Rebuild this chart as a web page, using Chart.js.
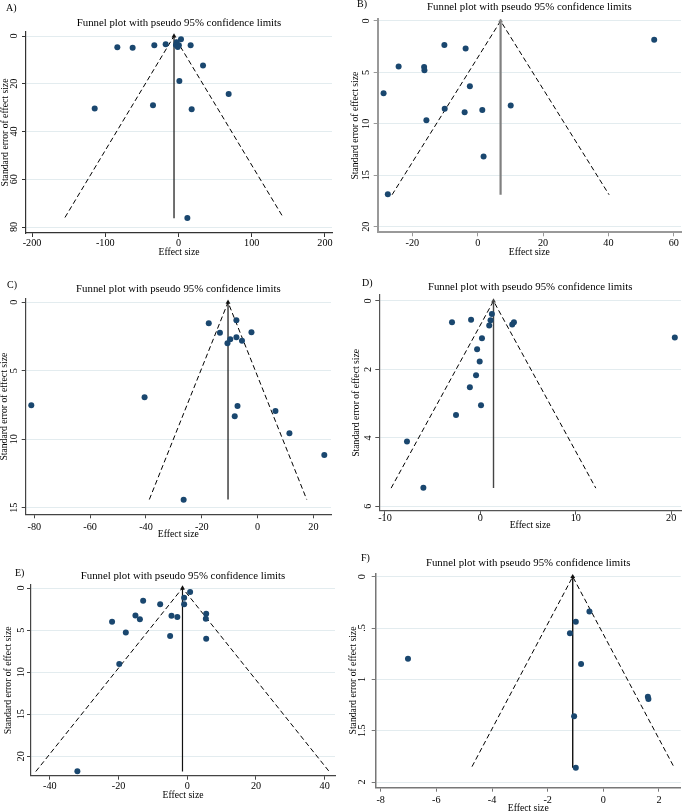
<!DOCTYPE html>
<html><head><meta charset="utf-8">
<script src="https://cdn.jsdelivr.net/npm/chart.js@4.4.0/dist/chart.umd.min.js"></script>
<style>
html,body{margin:0;padding:0;background:#fff;overflow:hidden;width:685px;height:812px}
#wrap{position:relative;width:685px;height:812px;overflow:hidden;background:#fff}
#wrap canvas{position:absolute}
.lab{position:absolute;font-family:'Liberation Serif',serif;font-size:10px;line-height:11px;color:#000;white-space:nowrap}
</style></head>
<body><div id="wrap"></div>
<script>
// ---------- Data ----------
const TITLE = 'Funnel plot with pseudo 95% confidence limits';
const X_TITLE = 'Effect size';
const Y_TITLE = 'Standard error of effect size';
const panelLetters = ['A)', 'B)', 'C)', 'D)', 'E)', 'F)'];

// Panel A
const aEffect = [-83.5, -62.6, -33.0, -17.5, 3.4, -2.5, -3.5, 0.5, -1.0, 16.6, 33.5, 1.2, 68.5, -114.4, -34.8, 18.0, 12.1];
const aSE     = [4.7, 4.9, 3.9, 3.5, 1.4, 2.6, 3.8, 3.9, 4.6, 3.9, 12.3, 18.8, 24.3, 30.4, 29.0, 30.7, 76.2];
const aCiX = [-155, -6.1, 143];
const aCiY = [76, 0, 76];
const aMidX = [-6.1, -6.1];
const aMidY = [76.3, 0];
const aXTicks = [-200, -100, 0, 100, 200];
const aXLabels = ['-200', '-100', '0', '100', '200'];
const aYTicks = [0, 20, 40, 60, 80];
const aYLabels = ['0', '20', '40', '60', '80'];

// Panel B
const bEffect = [54.0, -10.2, -3.7, -24.2, -16.4, -16.3, -2.4, -28.8, -10.1, 10.1, -4.0, 1.4, -15.7, 1.8, -27.5];
const bSE     = [1.82, 2.33, 2.69, 4.44, 4.47, 4.80, 6.35, 7.03, 8.53, 8.23, 8.88, 8.65, 9.66, 13.19, 16.86];
const bCiX = [-26.2, 7.0, 40.2];
const bCiY = [16.9, 0, 16.9];
const bMidX = [7.0, 7.0];
const bMidY = [16.9, 0];
const bXTicks = [-20, 0, 20, 40, 60];
const bXLabels = ['-20', '0', '20', '40', '60'];
const bYTicks = [0, 5, 10, 15, 20];
const bYLabels = ['0', '5', '10', '15', '20'];

// Panel C
const cEffect = [-17.5, -7.6, -13.5, -2.2, -9.8, -7.6, -5.6, -10.8, -81.1, -40.5, -7.2, -8.2, 6.4, 11.4, 23.9, -26.5];
const cSE     = [1.53, 1.31, 2.22, 2.19, 2.70, 2.56, 2.80, 2.99, 7.52, 6.94, 7.57, 8.33, 7.94, 9.57, 11.15, 14.41];
const cCiX = [-38.8, -10.6, 17.6];
const cCiY = [14.4, 0, 14.4];
const cMidX = [-10.6, -10.6];
const cMidY = [14.4, 0];
const cXTicks = [-80, -60, -40, -20, 0, 20];
const cXLabels = ['-80', '-60', '-40', '-20', '0', '20'];
const cYTicks = [0, 5, 10, 15];
const cYLabels = ['0', '5', '10', '15'];

// Panel D
const dEffect = [-2.97, -0.97, 1.21, 1.07, 0.93, 3.34, 3.52, 20.38, 0.17, -0.34, -0.07, -0.45, -1.10, 0.07, -2.55, -7.69, -5.97];
const dSE     = [0.62, 0.55, 0.38, 0.56, 0.72, 0.69, 0.62, 1.07, 1.09, 1.41, 1.77, 2.17, 2.52, 3.05, 3.33, 4.11, 5.46];
const dCiX = [-9.35, 1.38, 12.1];
const dCiY = [5.47, 0, 5.47];
const dMidX = [1.38, 1.38];
const dMidY = [5.47, 0];
const dXTicks = [-10, 0, 10, 20];
const dXLabels = ['-10', '0', '10', '20'];
const dYTicks = [0, 2, 4, 6];
const dYLabels = ['0', '2', '4', '6'];

// Panel E
const eEffect = [0.82, -0.92, -0.92, -12.85, -7.9, -15.1, -13.8, -21.9, -4.6, -2.9, 5.5, 5.4, -17.9, -5.0, 5.5, -19.8, -32.0];
const eSE     = [0.48, 1.15, 1.94, 1.50, 1.94, 3.25, 3.72, 4.0, 3.29, 3.45, 3.05, 3.64, 5.27, 5.70, 6.02, 9.03, 21.78];
const eCiX = [-44.1, -1.4, 41.3];
const eCiY = [21.8, 0, 21.8];
const eMidX = [-1.4, -1.4];
const eMidY = [21.8, 0];
const eXTicks = [-40, -20, 0, 20, 40];
const eXLabels = ['-40', '-20', '0', '20', '40'];
const eYTicks = [0, 5, 10, 15, 20];
const eYLabels = ['0', '5', '10', '15', '20'];

// Panel F
const fEffect = [-0.50, -0.99, -1.20, -7.02, -0.80, 1.60, 1.62, -1.05, -0.99];
const fSE     = [0.34, 0.44, 0.55, 0.80, 0.85, 1.17, 1.19, 1.36, 1.86];
const fCiX = [-4.72, -1.10, 2.53];
const fCiY = [1.85, 0, 1.85];
const fMidX = [-1.10, -1.10];
const fMidY = [1.86, 0];
const fXTicks = [-8, -6, -4, -2, 0, 2];
const fXLabels = ['-8', '-6', '-4', '-2', '0', '2'];
const fYTicks = [0, 0.5, 1, 1.5, 2];
const fYLabels = ['0', '.5', '1', '1.5', '2'];

// ---------- Layout / styling ----------
const FONT = "'Liberation Serif', 'Times New Roman', serif";
Chart.defaults.font.family = FONT;
const MARKER = '#1a476f';
const GRID = '#e3ecef';

const panels = [
  {letter: panelLetters[0], lab: [6, 1.5], cv: {left: 0, top: 0, w: 340, h: 265}, plot: {l: 26, r: 332, t: 32, b: 233},
   titleY: 23, xTitleY: 252, yTitleX: 5.8, xGap: 9.6, yGap: 12, xr: [-208.2, 209.6], yr: [-1.68, 82.5],
   ex: aEffect, se: aSE, ciX: aCiX, ciY: aCiY, midX: aMidX, midY: aMidY,
   xTicks: aXTicks, xLabels: aXLabels, yTicks: aYTicks, yLabels: aYLabels,
   axisColor: '#333', axisWidth: 1.2, midColor: '#111', midWidth: 1.2},
  {letter: panelLetters[1], lab: [357, -2], cv: {left: 340, top: 0, w: 345, h: 265}, plot: {l: 377.7, r: 684, t: 19, b: 232.3},
   titleY: 7.3, xTitleY: 252.7, yTitleX: 355.7, xGap: 10, yGap: 11, xr: [-30.6, 62.2], yr: [-0.19, 20.55],
   ex: bEffect, se: bSE, ciX: bCiX, ciY: bCiY, midX: bMidX, midY: bMidY,
   xTicks: bXTicks, xLabels: bXLabels, yTicks: bYTicks, yLabels: bYLabels,
   axisColor: '#999', axisWidth: 2, midColor: '#808080', midWidth: 2.2},
  {letter: panelLetters[2], lab: [7, 279], cv: {left: -2, top: 270, w: 342, h: 272}, plot: {l: 25.7, r: 331, t: 299, b: 514.3},
   titleY: 289, xTitleY: 534, yTitleX: 4, xGap: 11.7, yGap: 11.7, xr: [-83.1, 26.3], yr: [-0.24, 15.48],
   ex: cEffect, se: cSE, ciX: cCiX, ciY: cCiY, midX: cMidX, midY: cMidY,
   xTicks: cXTicks, xLabels: cXLabels, yTicks: cYTicks, yLabels: cYLabels,
   axisColor: '#444', axisWidth: 1.2, midColor: '#111', midWidth: 1.2},
  {letter: panelLetters[3], lab: [362, 277], cv: {left: 340, top: 270, w: 345, h: 262}, plot: {l: 379.3, r: 685, t: 295, b: 510.7},
   titleY: 287.3, xTitleY: 525, yTitleX: 356.7, xGap: 6.5, yGap: 11, xr: [-10.59, 21.03], yr: [-0.175, 6.13],
   ex: dEffect, se: dSE, ciX: dCiX, ciY: dCiY, midX: dMidX, midY: dMidY,
   xTicks: dXTicks, xLabels: dXLabels, yTicks: dYTicks, yLabels: dYLabels,
   axisColor: '#555', axisWidth: 1.2, midColor: '#444', midWidth: 1.4},
  {letter: panelLetters[4], lab: [15, 566.5], cv: {left: 0, top: 560, w: 340, h: 252}, plot: {l: 31, r: 335, t: 585, b: 775.7},
   titleY: 576.3, xTitleY: 795, yTitleX: 8.3, xGap: 10, yGap: 10, xr: [-45.5, 43.0], yr: [-0.36, 22.3],
   ex: eEffect, se: eSE, ciX: eCiX, ciY: eCiY, midX: eMidX, midY: eMidY,
   xTicks: eXTicks, xLabels: eXLabels, yTicks: eYTicks, yLabels: eYLabels,
   axisColor: '#444', axisWidth: 1.2, midColor: '#111', midWidth: 1.2},
  {letter: panelLetters[5], lab: [361, 552], cv: {left: 340, top: 550, w: 345, h: 270}, plot: {l: 375.7, r: 680.7, t: 573.3, b: 787.7},
   titleY: 563.3, xTitleY: 808.3, yTitleX: 353.3, xGap: 11.6, yGap: 13, xr: [-8.18, 2.78], yr: [-0.033, 2.055],
   ex: fEffect, se: fSE, ciX: fCiX, ciY: fCiY, midX: fMidX, midY: fMidY,
   xTicks: fXTicks, xLabels: fXLabels, yTicks: fYTicks, yLabels: fYLabels,
   axisColor: '#777', axisWidth: 1.5, midColor: '#111', midWidth: 1.4}
];

const wrap = document.getElementById('wrap');
const TL = 4;
const TITLE_SIZE = 10.8, AX_TITLE_SIZE = 9.7, TICK_SIZE = 10.2;

function makePanel(p) {
  const c = p.cv;
  const cv = document.createElement('canvas');
  cv.width = c.w; cv.height = c.h;
  cv.style.left = c.left + 'px'; cv.style.top = c.top + 'px';
  cv.style.width = c.w + 'px'; cv.style.height = c.h + 'px';
  wrap.appendChild(cv);

  const lab = document.createElement('div');
  lab.className = 'lab'; lab.textContent = p.letter;
  lab.style.left = p.lab[0] + 'px'; lab.style.top = p.lab[1] + 'px';
  wrap.appendChild(lab);

  const m = cv.getContext('2d');
  m.font = TICK_SIZE + 'px ' + FONT;
  const widest = Math.max(...p.yLabels.map(s => m.measureText(s).width));

  const yAxisW = p.plot.l - c.left;
  const xAxisH = c.top + c.h - p.plot.b;
  const padR = c.left + c.w - p.plot.r;
  const tLH = TITLE_SIZE * 1.2;
  const topRegion = p.plot.t - c.top;
  const tPt = (p.titleY - c.top) - tLH / 2;
  const tPb = topRegion - tPt - tLH;
  const aLH = AX_TITLE_SIZE * 1.2;
  const xtPb = (c.top + c.h - p.xTitleY) - aLH / 2;
  const ytPt = (p.yTitleX - c.left) - aLH / 2;
  const xTickPad = p.xGap - TL - 5.2;
  const yTickPad = p.yGap - TL - widest / 2;

  new Chart(cv, {
    type: 'scatter',
    data: {
      datasets: [
        {label: 'pseudo 95% CI', data: p.ciX.map((x, i) => ({x, y: p.ciY[i]})), showLine: true,
         borderColor: '#000', borderWidth: 1, borderDash: [5, 3], pointRadius: 0, fill: false, order: 3},
        {label: 'pooled', data: p.midX.map((x, i) => ({x, y: p.midY[i]})), showLine: true,
         borderColor: p.midColor, borderWidth: p.midWidth, pointRadius: [0, 2.8], pointStyle: 'triangle',
         pointBackgroundColor: p.midColor, pointBorderColor: p.midColor, pointBorderWidth: 0, order: 2},
        {label: 'studies', data: p.ex.map((x, i) => ({x, y: p.se[i]})), pointRadius: 3,
         pointBackgroundColor: MARKER, pointBorderColor: MARKER, pointBorderWidth: 0, order: 1}
      ]
    },
    options: {
      responsive: false, animation: false, devicePixelRatio: 1,
      layout: {padding: {left: 0, top: 0, bottom: 0, right: padR}},
      plugins: {
        legend: {display: false}, tooltip: {enabled: false},
        title: {display: true, text: TITLE, fullSize: false, color: '#000',
                font: {size: TITLE_SIZE, weight: 'normal', family: FONT, lineHeight: 1.2},
                padding: {top: tPt, bottom: tPb}}
      },
      scales: {
        x: {
          type: 'linear', position: 'bottom', min: p.xr[0], max: p.xr[1],
          afterFit: s => { s.height = xAxisH; },
          afterBuildTicks: s => { s.ticks = p.xTicks.map(v => ({value: v})); },
          ticks: {autoSkip: false, minRotation: 0, maxRotation: 0, padding: xTickPad, color: '#000',
                  font: {size: TICK_SIZE}, callback: (v, i) => p.xLabels[i]},
          grid: {drawOnChartArea: false, drawTicks: true, tickLength: TL, tickColor: p.axisColor, tickWidth: 1},
          border: {display: true, color: p.axisColor, width: p.axisWidth},
          title: {display: true, text: X_TITLE, color: '#000', font: {size: AX_TITLE_SIZE, lineHeight: 1.2},
                  padding: {top: 0, bottom: xtPb}}
        },
        y: {
          type: 'linear', position: 'left', reverse: true, min: p.yr[0], max: p.yr[1],
          afterFit: s => { s.width = yAxisW; },
          afterBuildTicks: s => { s.ticks = p.yTicks.map(v => ({value: v})); },
          ticks: {autoSkip: false, minRotation: 90, maxRotation: 90, crossAlign: 'center', padding: yTickPad,
                  color: '#000', font: {size: TICK_SIZE}, callback: (v, i) => p.yLabels[i]},
          grid: {drawOnChartArea: true, color: GRID, lineWidth: 1, drawTicks: true, tickLength: TL,
                 tickColor: p.axisColor, tickWidth: 1},
          border: {display: true, color: p.axisColor, width: p.axisWidth},
          title: {display: true, text: Y_TITLE, color: '#000', font: {size: AX_TITLE_SIZE, lineHeight: 1.2},
                  padding: {top: ytPt, bottom: 0}}
        }
      }
    }
  });
}

panels.forEach(makePanel);
</script>
</body></html>
